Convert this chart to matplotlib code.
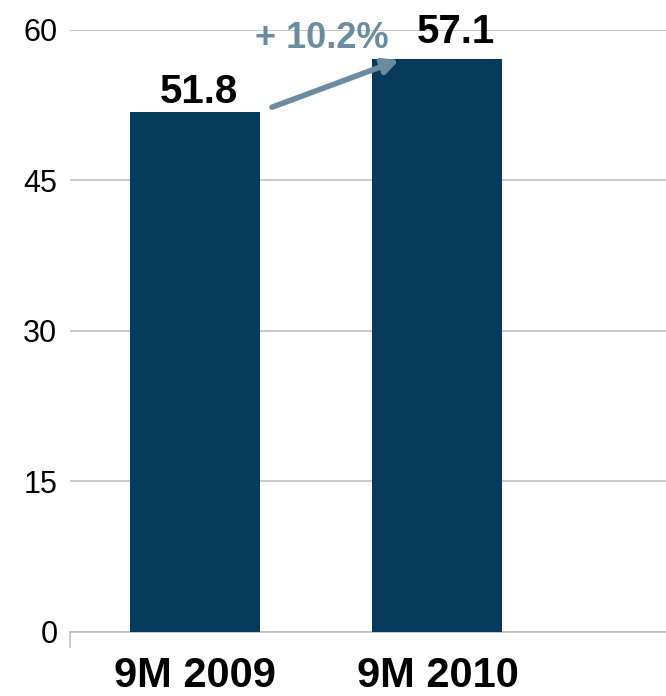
import matplotlib
matplotlib.use('Agg')

import matplotlib.pyplot as plt

# data
periods = ['9M 2009', '9M 2010']
values = [51.8, 57.1]
growth_label = '+ 10.2%'
yticks = [0, 15, 30, 45, 60]

bar_color = '#073b5c'
arrow_color = '#6b8ca0'
grid_color = '#c0c0c0'

plt.rcParams['font.family'] = ['Liberation Sans', 'DejaVu Sans']

fig = plt.figure(figsize=(6.66, 6.96), dpi=100)
ax = fig.add_axes([0.105, 0.092, 0.895, 0.865])

x = list(range(len(periods)))
width = 0.536
ax.bar(x, values, width=width, color=bar_color, zorder=3)

ax.set_ylim(0, 60)
ax.set_xlim(-0.515, 1.942)
ax.set_yticks(yticks)
ax.set_yticklabels([str(t) for t in yticks], fontsize=22)
ax.tick_params(axis='y', length=0, pad=9)

ax.set_xticks(x)
ax.set_xticklabels(periods, fontsize=30, fontweight='bold')
ax.tick_params(axis='x', length=0, pad=17)

ax.grid(axis='y', color=grid_color, linewidth=1.2, zorder=0)
for s in ['top', 'right', 'left']:
    ax.spines[s].set_visible(False)
ax.spines['bottom'].set_color(grid_color)
ax.spines['bottom'].set_linewidth(1.2)
# small tick at the left end of the baseline
ax.plot([0, 0], [0, -0.025], transform=ax.transAxes, color=grid_color,
        linewidth=1.2, clip_on=False)

# value labels (second one nudged right, clear of the arrow)
label_offsets = [(3, 1), (13, 6)]
for xi, v, off in zip(x, values, label_offsets):
    ax.annotate(f'{v:.1f}', xy=(xi, v), xytext=off, textcoords='offset points',
                ha='center', va='bottom', fontsize=29, fontweight='bold',
                color='black', annotation_clip=False, zorder=5)

# growth arrow
start = (x[0] + width / 2 + 0.05, values[0] + 0.5)
end = (x[1] - width / 2 + 0.11, values[1] - 0.1)
ax.annotate('', xy=end, xytext=start,
            arrowprops=dict(arrowstyle='-|>,head_length=0.9,head_width=0.45',
                            color=arrow_color, lw=4, shrinkA=0, shrinkB=0),
            annotation_clip=False, zorder=4)
ax.text(0.525, 59.1, growth_label, ha='center', va='center', fontsize=26,
        fontweight='bold', color=arrow_color, zorder=5, clip_on=False)

fig.savefig('out.png', dpi=100)
